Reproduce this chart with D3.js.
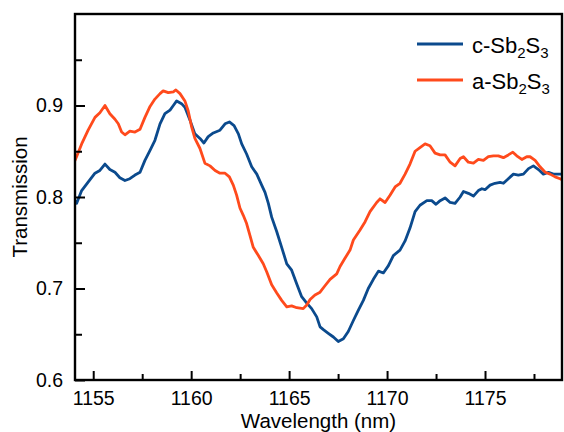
<!DOCTYPE html>
<html>
<head>
<meta charset="utf-8">
<script src="https://cdn.jsdelivr.net/npm/d3@7"></script>
<style>
  html, body { margin: 0; padding: 0; background: #fff; }
  svg { display: block; font-family: "Liberation Sans", Arial, sans-serif; }
</style>
</head>
<body>
<svg id="chart" width="564" height="432"></svg>
<script>
// Transmission spectra of the Sb2S3-loaded resonator
const seriesNames = ["c-Sb", "a-Sb"];
const seriesColors = ["#0b4a8d", "#ff4a1c"];

// crystalline state
const cWavelength = [
  1154.07, 1154.15, 1154.41, 1154.73, 1155.09, 1155.34, 1155.60, 1155.85, 1156.11, 1156.36,
  1156.62, 1156.87, 1157.13, 1157.39, 1157.64, 1157.90, 1158.15, 1158.41, 1158.66, 1158.92,
  1159.09, 1159.26, 1159.51, 1159.68, 1159.94, 1160.19, 1160.45, 1160.65, 1160.87, 1161.13,
  1161.47, 1161.73, 1161.95, 1162.19, 1162.41, 1162.58, 1162.83, 1163.09, 1163.35, 1163.60,
  1163.77, 1163.94, 1164.11, 1164.37, 1164.62, 1164.88, 1165.13, 1165.39, 1165.64, 1165.90,
  1166.15, 1166.41, 1166.58, 1166.75, 1167.00, 1167.26, 1167.51, 1167.77, 1168.02, 1168.28,
  1168.53, 1168.79, 1169.04, 1169.30, 1169.56, 1169.81, 1170.07, 1170.32, 1170.66, 1170.92,
  1171.17, 1171.43, 1171.68, 1172.03, 1172.28, 1172.50, 1172.71, 1172.96, 1173.22, 1173.47,
  1173.73, 1173.90, 1174.15, 1174.41, 1174.66, 1174.84, 1175.00, 1175.26, 1175.51, 1175.77,
  1175.94, 1176.19, 1176.45, 1176.70, 1176.96, 1177.22, 1177.47, 1177.73, 1177.98, 1178.24,
  1178.49, 1178.83, 1178.93
];
const cTransmission = [
  0.796, 0.793, 0.807, 0.816, 0.826, 0.829, 0.836, 0.830, 0.827, 0.821,
  0.818, 0.820, 0.824, 0.827, 0.840, 0.851, 0.862, 0.880, 0.891, 0.895,
  0.900, 0.905, 0.902, 0.898, 0.884, 0.869, 0.864, 0.859, 0.866, 0.870,
  0.873, 0.880, 0.882, 0.878, 0.869, 0.858, 0.847, 0.833, 0.825, 0.813,
  0.805, 0.793, 0.778, 0.762, 0.745, 0.727, 0.720, 0.705, 0.691, 0.684,
  0.678, 0.669, 0.658, 0.655, 0.651, 0.647, 0.642, 0.645, 0.653, 0.665,
  0.676, 0.687, 0.700, 0.710, 0.719, 0.717, 0.725, 0.736, 0.742, 0.752,
  0.766, 0.784, 0.791, 0.796, 0.796, 0.792, 0.796, 0.799, 0.794, 0.793,
  0.800, 0.806, 0.804, 0.801, 0.807, 0.809, 0.808, 0.813, 0.815, 0.816,
  0.815, 0.820, 0.825, 0.824, 0.825, 0.831, 0.834, 0.830, 0.825, 0.827,
  0.825, 0.825, 0.825
];

// amorphous state
const aWavelength = [
  1154.07, 1154.15, 1154.41, 1154.74, 1155.09, 1155.34, 1155.60, 1155.85, 1156.11, 1156.28,
  1156.45, 1156.62, 1156.87, 1157.13, 1157.39, 1157.64, 1157.90, 1158.15, 1158.41, 1158.57,
  1158.83, 1159.09, 1159.22, 1159.43, 1159.68, 1159.85, 1160.03, 1160.19, 1160.45, 1160.70,
  1160.96, 1161.22, 1161.47, 1161.73, 1161.95, 1162.15, 1162.32, 1162.49, 1162.66, 1162.83,
  1163.00, 1163.17, 1163.43, 1163.68, 1163.86, 1164.11, 1164.37, 1164.62, 1164.88, 1165.13,
  1165.39, 1165.72, 1165.90, 1166.07, 1166.32, 1166.58, 1166.83, 1167.09, 1167.43, 1167.60,
  1167.85, 1168.11, 1168.28, 1168.62, 1168.88, 1169.13, 1169.47, 1169.64, 1169.90, 1170.15,
  1170.41, 1170.66, 1170.92, 1171.17, 1171.43, 1171.68, 1171.94, 1172.19, 1172.45, 1172.71,
  1172.96, 1173.22, 1173.47, 1173.73, 1173.90, 1174.15, 1174.41, 1174.66, 1174.92, 1175.17,
  1175.43, 1175.68, 1175.94, 1176.19, 1176.42, 1176.62, 1176.88, 1177.13, 1177.30, 1177.56,
  1177.81, 1178.07, 1178.32, 1178.58, 1178.83, 1178.93
];
const aTransmission = [
  0.840, 0.844, 0.858, 0.873, 0.887, 0.892, 0.900, 0.891, 0.885, 0.880,
  0.871, 0.868, 0.872, 0.871, 0.874, 0.887, 0.899, 0.907, 0.913, 0.916,
  0.914, 0.915, 0.917, 0.913, 0.905, 0.894, 0.876, 0.864, 0.853, 0.837,
  0.834, 0.829, 0.826, 0.826, 0.822, 0.813, 0.802, 0.788, 0.780, 0.771,
  0.758, 0.745, 0.736, 0.727, 0.718, 0.704, 0.695, 0.687, 0.680, 0.681,
  0.679, 0.678, 0.682, 0.688, 0.693, 0.696, 0.703, 0.710, 0.716, 0.724,
  0.733, 0.742, 0.753, 0.764, 0.773, 0.784, 0.794, 0.798, 0.794, 0.802,
  0.811, 0.815, 0.825, 0.836, 0.850, 0.854, 0.858, 0.856, 0.848, 0.846,
  0.846, 0.838, 0.834, 0.842, 0.844, 0.838, 0.837, 0.841, 0.840, 0.844,
  0.845, 0.845, 0.843, 0.846, 0.849, 0.845, 0.841, 0.844, 0.844, 0.840,
  0.833, 0.827, 0.825, 0.822, 0.820, 0.819
];

const xMajorTicks = [1155, 1160, 1165, 1170, 1175];
const xMinorTicks = [1157.5, 1162.5, 1167.5, 1172.5, 1177.5];
const yMajorTicks = [0.6, 0.7, 0.8, 0.9];
const yMinorTicks = [0.65, 0.75, 0.85, 0.95];

const svg = d3.select("#chart");
const box = { left: 75, right: 562, top: 14, bottom: 380 };

const x = d3.scaleLinear().domain([1154.07, 1178.93]).range([box.left, box.right]);
const y = d3.scaleLinear().domain([0.6, 1.0]).range([box.bottom, box.top]);

// curves, clipped to the plot box
svg.append("defs").append("clipPath").attr("id", "plotClip")
  .append("rect").attr("x", box.left).attr("y", box.top)
  .attr("width", box.right - box.left).attr("height", box.bottom - box.top);

const line = d3.line().x(d => x(d[0])).y(d => y(d[1]));
const series = [
  d3.zip(cWavelength, cTransmission),
  d3.zip(aWavelength, aTransmission)
];
const plot = svg.append("g").attr("clip-path", "url(#plotClip)");
// crystalline curve first, amorphous one on top
series.forEach((s, i) => {
  plot.append("path").datum(s)
    .attr("d", line)
    .attr("fill", "none")
    .attr("stroke", seriesColors[i])
    .attr("stroke-width", 2.8)
    .attr("stroke-linejoin", "round")
    .attr("stroke-linecap", "round");
});

// axes with inward ticks
const xAxis = svg.append("g").attr("transform", `translate(0,${box.bottom})`)
  .call(d3.axisBottom(x).tickValues(xMajorTicks).tickSize(-9).tickPadding(11).tickFormat(d3.format("d")));
const xMinor = svg.append("g").attr("transform", `translate(0,${box.bottom})`)
  .call(d3.axisBottom(x).tickValues(xMinorTicks).tickSize(-6).tickFormat(""));
const yAxis = svg.append("g").attr("transform", `translate(${box.left},0)`)
  .call(d3.axisLeft(y).tickValues(yMajorTicks).tickSize(-10).tickPadding(12).tickFormat(d3.format(".1f")));
const yMinor = svg.append("g").attr("transform", `translate(${box.left},0)`)
  .call(d3.axisLeft(y).tickValues(yMinorTicks).tickSize(-7).tickFormat(""));

[xAxis, xMinor, yAxis, yMinor].forEach(g => {
  g.select(".domain").remove();
  g.selectAll(".tick line").attr("stroke", "#000").attr("stroke-width", 2);
  g.selectAll(".tick text").attr("fill", "#000").style("font-size", "19.5px")
    .style("font-family", "Liberation Sans, Arial, sans-serif");
});

// frame
svg.append("rect")
  .attr("x", box.left).attr("y", box.top)
  .attr("width", box.right - box.left).attr("height", box.bottom - box.top)
  .attr("fill", "none").attr("stroke", "#000").attr("stroke-width", 2.4);

// axis titles
svg.append("text")
  .attr("x", (box.left + box.right) / 2).attr("y", 428)
  .attr("text-anchor", "middle")
  .style("font-size", "20.5px")
  .text("Wavelength (nm)");

svg.append("text")
  .attr("transform", `translate(27,${(box.top + box.bottom) / 2}) rotate(-90)`)
  .attr("text-anchor", "middle")
  .style("font-size", "20.5px")
  .text("Transmission");

// legend
const legend = svg.append("g");
seriesNames.forEach((name, i) => {
  const ly = 44 + i * 36;
  legend.append("line")
    .attr("x1", 417).attr("x2", 463)
    .attr("y1", ly).attr("y2", ly)
    .attr("stroke", seriesColors[i]).attr("stroke-width", 2.8);
  const t = legend.append("text")
    .attr("x", 472).attr("y", ly + 9)
    .style("font-size", "22px");
  t.append("tspan").text(name);
  t.append("tspan").attr("dy", 5).style("font-size", "15px").text("2");
  t.append("tspan").attr("dy", -5).text("S");
  t.append("tspan").attr("dy", 5).style("font-size", "15px").text("3");
});
</script>
</body>
</html>
